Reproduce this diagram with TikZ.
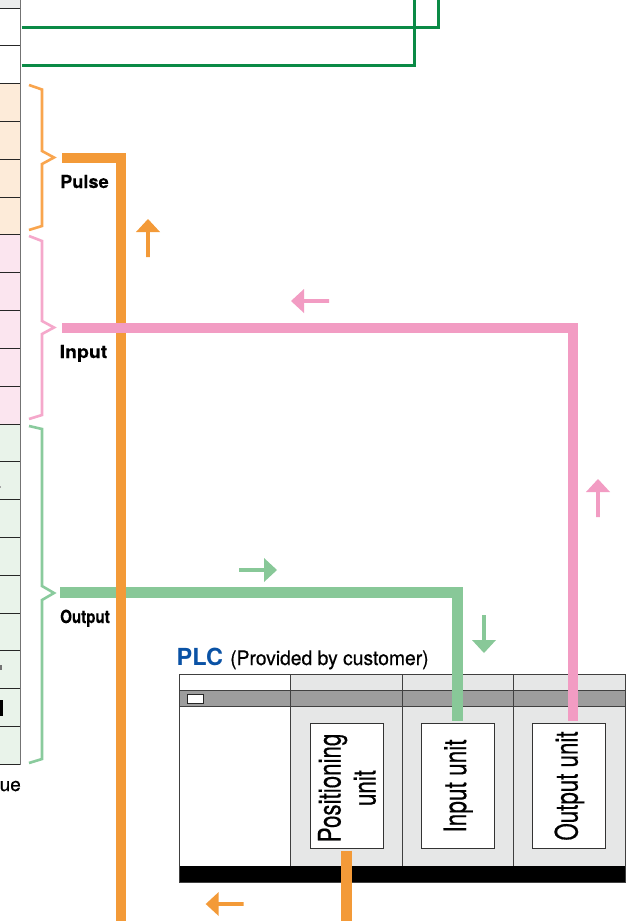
\documentclass[tikz,border=0pt]{standalone}
\usepackage{fontspec}
\setmainfont{TeX Gyre Heros}
\newfontfamily\heavyfont{TeX Gyre Heros}[FakeBold=0.5]
\newfontfamily\heavybold{TeX Gyre Heros Bold}[FakeBold=0.3]
\definecolor{ordk}{HTML}{F39A38}
\definecolor{orbr}{HTML}{F9A54E}
\definecolor{pkdk}{HTML}{F29CC3}
\definecolor{pkbr}{HTML}{F5A8CB}
\definecolor{gndk}{HTML}{88C898}
\definecolor{gnbr}{HTML}{8ACB9D}
\definecolor{gnln}{HTML}{0B8A46}
\definecolor{orbg}{HTML}{FDEBD9}
\definecolor{pkbg}{HTML}{FBE5EF}
\definecolor{gnbg}{HTML}{E9F3EA}
\definecolor{colbg}{HTML}{E6E7E7}
\definecolor{bandbg}{HTML}{9D9D9D}
\definecolor{plcblue}{HTML}{0A52A5}
\newcommand{\vlab}[2]{\rotatebox{90}{\scalebox{#1}[1]{#2}}}
\tikzset{
  x=1pt,y=-1pt,
  rowbox/.style={draw=black!85,line width=1pt},
  bus/.style={line width=10.5pt,line cap=butt,line join=miter},
  brace/.style={line width=2.6pt,line join=miter},
  unitbox/.style={draw=black!80,fill=white,line width=1pt,minimum width=73pt,minimum height=124.7pt,inner sep=0pt},
  lab/.style={font=\heavybold\fontsize{18}{18}\selectfont,inner sep=0pt,anchor=base west},
  sep/.style={draw=black!75,line width=1pt},
}
\newcommand{\upar}[3]{\fill[#1] (#2-12,#3+13) -- (#2,#3) -- (#2+12,#3+13) -- (#2+1.8,#3+13) -- (#2+1.8,#3+38) -- (#2-1.8,#3+38) -- (#2-1.8,#3+13) -- cycle;}
\newcommand{\dnar}[3]{\fill[#1] (#2-12,#3-13) -- (#2,#3) -- (#2+12,#3-13) -- (#2+1.8,#3-13) -- (#2+1.8,#3-38) -- (#2-1.8,#3-38) -- (#2-1.8,#3-13) -- cycle;}
\newcommand{\lfar}[3]{\fill[#1] (#2+13,#3-12) -- (#2,#3) -- (#2+13,#3+12) -- (#2+13,#3+1.8) -- (#2+38,#3+1.8) -- (#2+38,#3-1.8) -- (#2+13,#3-1.8) -- cycle;}
\newcommand{\rtar}[3]{\fill[#1] (#2-13,#3-12) -- (#2,#3) -- (#2-13,#3+12) -- (#2-13,#3+1.8) -- (#2-38,#3+1.8) -- (#2-38,#3-1.8) -- (#2-13,#3-1.8) -- cycle;}
\begin{document}
\begin{tikzpicture}
\useasboundingbox[fill=white] (0,0) rectangle (635,921);
% table
\fill[colbg!80] (0,0) rectangle (20.5,8);
\fill[orbg] (0,83) rectangle (20.5,234.5);
\fill[pkbg] (0,234.5) rectangle (20.5,424);
\fill[gnbg] (0,424) rectangle (20.5,764);
\foreach \yy in {8,45.5,83,121,159,197,234.5,272,310,348,386,424,461,499,537,575,613,650,688,726,764}
  \draw[rowbox] (0,\yy) -- (20.5,\yy);
\draw[draw=black!55,line width=1.8pt] (20.5,0) -- (20.5,764.5);
% clipped remains of the table's text
\fill[black] (0,700) rectangle (3,716);
\fill[black!55] (0,664.5) rectangle (1.8,669.5);
\fill[black!35] (0,486) rectangle (1,488);
\node[inner sep=0pt,anchor=base west,font=\heavyfont\fontsize{19}{19}\selectfont] (valtxt) at (-0.5,791) {ue};
% green lines top
\coordinate (g1a) at (21.5,27.5); \coordinate (g1b) at (438,0);
\coordinate (g2a) at (21.5,65.5); \coordinate (g2b) at (414,0);
\draw[gnln,line width=3pt] (g1a) -| (g1b);
\draw[gnln,line width=3pt] (g2a) -| (g2b);
% braces
\draw[orbr,brace] (29,85) -- (42,89.5) -- (42,151) -- (54,157.5) -- (42,164) -- (42,226) -- (29,230);
\draw[pkbr,brace] (29,236) -- (42,241) -- (42,321) -- (54,327.5) -- (42,334) -- (42,415) -- (29,419);
\draw[gnbr,brace] (29,426) -- (42,429) -- (42,586) -- (54,593) -- (42,600) -- (42,759) -- (29,763);
% PLC
\fill[white] (179,674.5) rectangle (290.7,866);
\fill[colbg] (290.7,674.5) rectangle (625.5,866);
\fill[bandbg] (179,690.7) rectangle (625.5,706.7);
\draw[sep] (179,690.7) -- (625.5,690.7);
\draw[sep] (179,706.7) -- (625.5,706.7);
\foreach \xx in {290.7,402.3,513.7} \draw[sep] (\xx,674.5) -- (\xx,866);
\fill[black] (179,866) rectangle (625.5,882);
\draw[sep] (179,674.5) rectangle (625.5,882);
\node[draw=black!85,fill=white,line width=1pt,minimum width=16.4pt,minimum height=8.7pt,inner sep=0pt] (led) at (195.5,698.7) {};
\node[inner sep=0pt,anchor=base west,font=\bfseries\fontsize{23.5}{24}\selectfont,text=plcblue] (plc) at (176.5,665) {PLC};
\node[inner sep=0pt,anchor=base west,font=\heavyfont\fontsize{20}{20}\selectfont] (prov) at (230,665) {\scalebox{.965}[1]{(Provided by customer)}};
% units
\node[unitbox] (posu) at (346.5,786.3) {};
\node[unitbox] (inu) at (458.2,786.3) {};
\node[unitbox] (outu) at (569.4,786.3) {};
\node[inner sep=0pt,anchor=center,font=\heavyfont\fontsize{31}{35}\selectfont] (poslab) at (351,788) {\rotatebox{90}{\begin{tabular}{@{}c@{}}\scalebox{.72}[1]{Positioning}\\[0pt]\scalebox{.72}[1]{unit}\end{tabular}}};
\node[inner sep=0pt,anchor=center,font=\heavyfont\fontsize{31}{35}\selectfont] (inlab) at (458.2,786) {\vlab{.73}{Input unit}};
\node[inner sep=0pt,anchor=center,font=\heavyfont\fontsize{31}{35}\selectfont] (outlab) at (569.4,786) {\vlab{.72}{Output unit}};
% buses
\coordinate (pink0) at (62,328); \coordinate (pink1) at (573,721);
\coordinate (green0) at (60,592.7); \coordinate (green1) at (457.7,721);
\coordinate (orange0) at (62,157.8); \coordinate (orange1) at (121,921);
\coordinate (stub0) at (346.3,850.7); \coordinate (stub1) at (346.3,921);
\draw[gndk,bus] (green0) -| (green1);
\draw[ordk,bus] (orange0) -| (orange1);
\draw[pkdk,bus] (pink0) -| (pink1);
\draw[ordk,bus] (stub0) -- (stub1);
% labels
\node[lab] (pulse) at (60,188) {\scalebox{1.01}[1]{Pulse}};
\node[lab] (input) at (59.5,358) {\scalebox{1.08}[1]{Input}};
\node[lab] (output) at (60,623) {\scalebox{.84}[1]{Output}};
% arrows
\upar{ordk}{148}{219}
\lfar{pkdk}{291}{301}
\upar{pkdk}{598}{479}
\rtar{gndk}{277}{570}
\dnar{gndk}{484}{653}
\lfar{ordk}{205.7}{904}
\end{tikzpicture}
\end{document}
